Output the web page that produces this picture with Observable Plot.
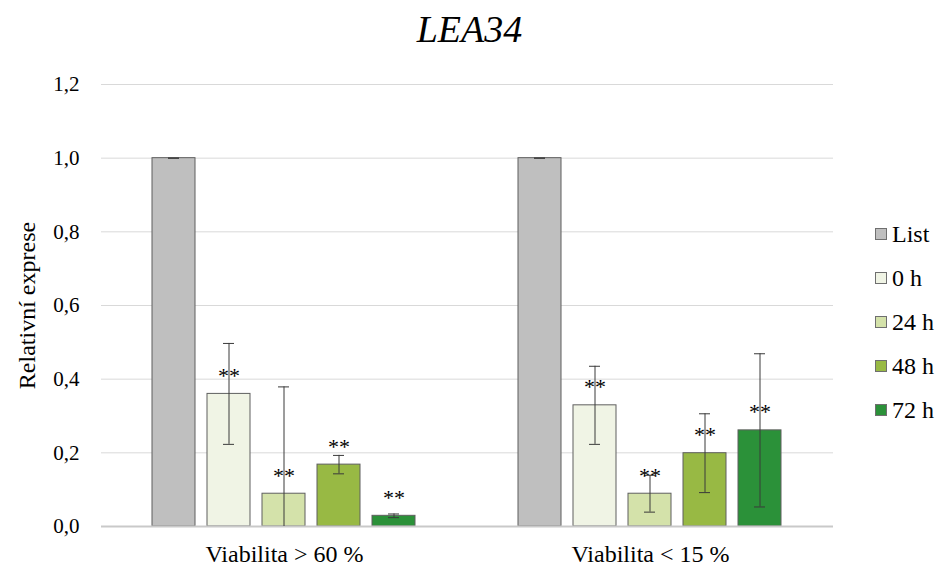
<!DOCTYPE html>
<html>
<head>
<meta charset="utf-8">
<script src="https://cdn.jsdelivr.net/npm/d3@7"></script>
<script src="https://cdn.jsdelivr.net/npm/@observablehq/plot@0.6"></script>
<style>
  body { margin: 0; background: #fff; }
  #wrap { position: relative; width: 939px; height: 567px; }
  #title { position: absolute; left: 0; top: 10px; width: 939px; text-align: center; line-height: 38px; color: #000; }
  #legend { position: absolute; left: 875px; top: 0; }
  .item { position: absolute; left: 0; display: flex; align-items: center; line-height: 24px; color: #000; white-space: nowrap; }
  .sw { display: inline-block; width: 10px; height: 10px; border: 1px solid #6f6f6f; margin-right: 5px; }
</style>
</head>
<body>
<div id="wrap">
  <div id="chart"></div>
  <div id="title" style="font-family:'Liberation Serif','Times New Roman',serif;font-style:italic;font-size:38px">LEA34</div>
  <div id="legend"></div>
</div>
<script>
const groups = ["Viabilita > 60 %", "Viabilita < 15 %"];
const series = ["List", "0 h", "24 h", "48 h", "72 h"];
const colors = ["#bfbfbf", "#f0f4e5", "#d4e2aa", "#98b944", "#2b9139"];
const valuesHigh = [1.0, 0.36, 0.089, 0.168, 0.029];
const errorsHigh = [0.0, 0.137, 0.29, 0.025, 0.005];
const valuesLow = [1.0, 0.329, 0.089, 0.199, 0.261];
const errorsLow = [0.0, 0.106, 0.05, 0.107, 0.208];
const marks = ["", "**", "**", "**", "**"];
const yTicks = [0, 0.2, 0.4, 0.6, 0.8, 1.0, 1.2];
const yLabel = "Relativní exprese";

const data = [];
[valuesHigh, valuesLow].forEach((vals, gi) => {
  const errs = gi === 0 ? errorsHigh : errorsLow;
  vals.forEach((v, i) => {
    data.push({group: groups[gi], series: series[i], value: v, err: errs[i],
      lo: Math.max(0, v - errs[i]), hi: v + errs[i], clipped: v - errs[i] < 0, sig: marks[i]});
  });
});

const fmt = d => d.toFixed(1).replace(".", ",");
const serif = "'Liberation Serif', 'Times New Roman', serif";

const chart = Plot.plot({
  width: 939,
  height: 567,
  marginLeft: 100,
  marginRight: 106,
  marginTop: 84,
  marginBottom: 41,
  style: {fontFamily: serif, fontSize: "21px", color: "#000", background: "#fff"},
  fx: {domain: groups, padding: 0},
  x: {domain: series, paddingInner: 0.214, paddingOuter: 0.88},
  y: {domain: [0, 1.2]},
  color: {domain: series, range: colors},
  marks: [
    Plot.ruleY(yTicks.slice(1), {stroke: "#d9d9d9", strokeWidth: 1}),
    Plot.axisX({ticks: [], label: null, tickSize: 0}),
    Plot.axisFx({anchor: "bottom", label: null, tickSize: 0, tickPadding: 18, fontSize: 24}),
    Plot.axisY({ticks: yTicks, tickFormat: fmt, tickSize: 0, tickPadding: 22, fontSize: 21, label: null}),
    Plot.axisY({ticks: [], tickSize: 0, fontSize: 24, label: yLabel, labelAnchor: "center", labelOffset: 84, labelArrow: false}),
    Plot.barY(data, {fx: "group", x: "series", y: "value", fill: "series", stroke: "#5f5f5f", strokeWidth: 1}),
    Plot.ruleY([0], {stroke: "#c9c9c9", strokeWidth: 2}),
    Plot.ruleX(data, {fx: "group", x: "series", y1: "lo", y2: "hi", stroke: "#3a3a3a", strokeWidth: 1}),
    Plot.tickY(data, {fx: "group", x: "series", y: "hi", stroke: "#3a3a3a", strokeWidth: 1, insetLeft: 16, insetRight: 16}),
    Plot.tickY(data.filter(d => !d.clipped), {fx: "group", x: "series", y: "lo", stroke: "#3a3a3a", strokeWidth: 1, insetLeft: 16, insetRight: 16}),
    Plot.text(data.filter(d => d.sig), {fx: "group", x: "series", y: "value", text: "sig", dy: -18, fontSize: 22, fill: "#000"})
  ]
});
document.getElementById("chart").appendChild(chart);

const legend = document.getElementById("legend");
const legendY = [234, 278, 322, 366, 410];
series.forEach((s, i) => {
  const it = document.createElement("div");
  it.className = "item";
  it.style.top = (legendY[i] - 12) + "px";
  it.style.fontFamily = serif;
  it.style.fontSize = "24px";
  it.innerHTML = `<span class="sw" style="background:${colors[i]}"></span><span>${s}</span>`;
  legend.appendChild(it);
});
</script>
</body>
</html>
